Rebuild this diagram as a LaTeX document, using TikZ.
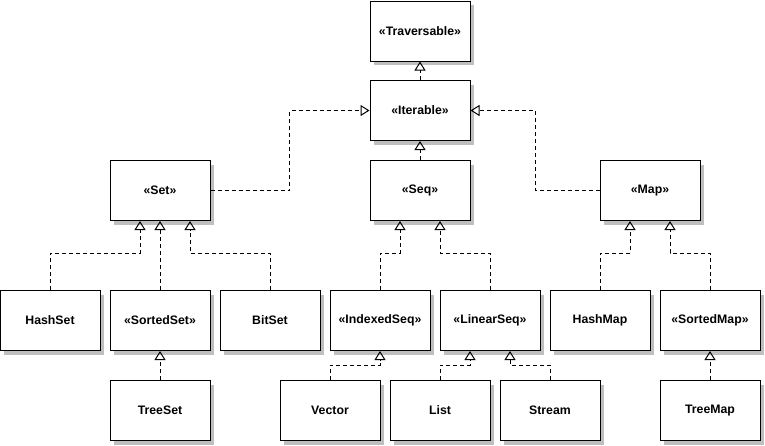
\documentclass[tikz,border=0pt]{standalone}
\usepackage{fontspec}
\setmainfont{Liberation Sans}
\usetikzlibrary{arrows.meta,shadows}
\begin{document}
\begin{tikzpicture}[x=1pt,y=-1pt,
  cls/.style={draw=black, line width=1pt, fill=white, minimum width=100pt,
    minimum height=60pt, inner sep=0pt,
    font=\fontsize{12.3}{14}\selectfont\bfseries,
    drop shadow={shadow xshift=4pt, shadow yshift=-4pt, fill=black!25, opacity=1}},
  impl/.style={line width=1pt, dash pattern=on 4pt off 3pt,
    -{Triangle[open, width=11pt, length=9pt, line width=1pt]}}]
\useasboundingbox (0,-0.5) rectangle (765,445);

% interfaces
\node[cls] (trav) at (420,30.5) {«Traversable»};
\node[cls] (iter) at (420,110) {«Iterable»};
\node[cls] (set)  at (160,190) {«Set»};
\node[cls] (seq)  at (420,190) {«Seq»};
\node[cls] (map)  at (650,190) {«Map»};

% second level
\node[cls] (hashset)    at (50,320)  {HashSet};
\node[cls] (sortedset)  at (160,320) {«SortedSet»};
\node[cls] (bitset)     at (270,320) {BitSet};
\node[cls] (indexedseq) at (380,320) {«IndexedSeq»};
\node[cls] (linearseq)  at (490,320) {«LinearSeq»};
\node[cls] (hashmap)    at (600,320) {HashMap};
\node[cls] (sortedmap)  at (710,320) {«SortedMap»};

% concrete collections
\node[cls] (treeset) at (160,410) {TreeSet};
\node[cls] (vector)  at (330,410) {Vector};
\node[cls] (list)    at (440,410) {List};
\node[cls] (stream)  at (550,410) {Stream};
\node[cls] (treemap) at (710,410) {TreeMap};

% realization links
\draw[impl] (iter.north) -- (trav.south);
\draw[impl] (seq.north) -- (iter.south);
\draw[impl] (set.east) -| ([xshift=-80pt]iter.west) -- (iter.west);
\draw[impl] (map.west) -| ([xshift=65pt]iter.east) -- (iter.east);

\draw[impl] (hashset.north) -- ++(0,-37) -| ([xshift=-20pt]set.south);
\draw[impl] (sortedset.north) -- (set.south);
\draw[impl] (bitset.north) -- ++(0,-37) -| ([xshift=30pt]set.south);

\draw[impl] (indexedseq.north) -- ++(0,-37) -| ([xshift=-20pt]seq.south);
\draw[impl] (linearseq.north) -- ++(0,-37) -| ([xshift=20pt]seq.south);

\draw[impl] (hashmap.north) -- ++(0,-37) -| ([xshift=-20pt]map.south);
\draw[impl] (sortedmap.north) -- ++(0,-37) -| ([xshift=20pt]map.south);

\draw[impl] (treeset.north) -- (sortedset.south);
\draw[impl] (vector.north) -- ++(0,-15) -| (indexedseq.south);
\draw[impl] (list.north) -- ++(0,-15) -| ([xshift=-20pt]linearseq.south);
\draw[impl] (stream.north) -- ++(0,-15) -| ([xshift=20pt]linearseq.south);
\draw[impl] (treemap.north) -- (sortedmap.south);
\end{tikzpicture}
\end{document}
